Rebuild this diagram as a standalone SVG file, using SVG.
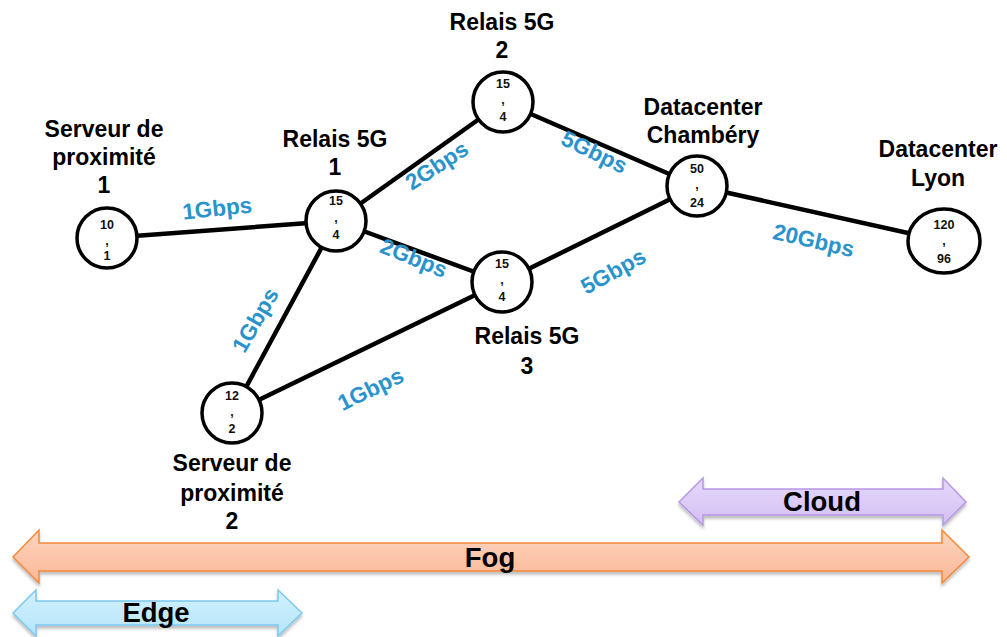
<svg xmlns="http://www.w3.org/2000/svg" width="1007" height="637" viewBox="0 0 1007 637">
<style>
.lbl{font-family:"Liberation Sans",Arial,sans-serif;font-weight:bold;font-size:23px;fill:#000;text-anchor:middle}
.bw{font-family:"Liberation Sans",Arial,sans-serif;font-weight:bold;font-size:22.5px;fill:#2a93cc;text-anchor:middle}
.num{font-family:"Liberation Sans",Arial,sans-serif;font-weight:bold;font-size:12.5px;fill:#111;text-anchor:middle}
.nd{fill:#fff;stroke:#000;stroke-width:3.5}
.ed{stroke:#000;stroke-width:4.5;stroke-linecap:round}
.big{font-family:"Liberation Sans",Arial,sans-serif;font-weight:bold;font-size:27.5px;fill:#000;text-anchor:middle}
</style>
<defs>
<linearGradient id="gCloud" x1="0" y1="0" x2="0" y2="1"><stop offset="0" stop-color="#e6d9fb"/><stop offset="1" stop-color="#d3bff3"/></linearGradient>
<linearGradient id="gFog" x1="0" y1="0" x2="0" y2="1"><stop offset="0" stop-color="#fdd5c0"/><stop offset="1" stop-color="#fbb796"/></linearGradient>
<linearGradient id="gEdge" x1="0" y1="0" x2="0" y2="1"><stop offset="0" stop-color="#d2f1fd"/><stop offset="1" stop-color="#b5e5f9"/></linearGradient>
<filter id="sh" x="-5%" y="-20%" width="110%" height="150%"><feDropShadow dx="0" dy="3" stdDeviation="1.5" flood-color="#000" flood-opacity="0.25"/></filter>
</defs>
<g id="connectors">
<line class="ed" x1="107" y1="238" x2="336" y2="221"/>
<line class="ed" x1="336" y1="221" x2="503" y2="102"/>
<line class="ed" x1="336" y1="221" x2="502" y2="282"/>
<line class="ed" x1="336" y1="221" x2="232" y2="413"/>
<line class="ed" x1="232" y1="413" x2="502" y2="282"/>
<line class="ed" x1="503" y1="102" x2="697" y2="186"/>
<line class="ed" x1="502" y1="282" x2="697" y2="186"/>
<line class="ed" x1="697" y1="186" x2="944" y2="241"/>
<text class="bw" transform="translate(218,216) rotate(-6)">1Gbps</text>
<text class="bw" transform="translate(441,172) rotate(-33)">2Gbps</text>
<text class="bw" transform="translate(411,265) rotate(22)">2Gbps</text>
<text class="bw" transform="translate(262,324) rotate(-60)">1Gbps</text>
<text class="bw" transform="translate(374,396) rotate(-26)">1Gbps</text>
<text class="bw" transform="translate(591,159) rotate(26)">5Gbps</text>
<text class="bw" transform="translate(617,278) rotate(-29)">5Gbps</text>
<text class="bw" transform="translate(812,248) rotate(13)">20Gbps</text>
</g>
<g id="serveur1">
<circle class="nd" cx="107" cy="238" r="30"/>
<text class="num" x="107" y="229">10</text><text class="num" x="107" y="245">,</text><text class="num" x="107" y="260">1</text>
<text class="lbl" x="104" y="137">Serveur de</text><text class="lbl" x="104" y="165">proximité</text><text class="lbl" x="104" y="193">1</text>
</g>
<g id="relais1">
<circle class="nd" cx="336" cy="221" r="30"/>
<text class="num" x="336" y="205">15</text><text class="num" x="336" y="222">,</text><text class="num" x="336" y="239">4</text>
<text class="lbl" x="335" y="147">Relais 5G</text><text class="lbl" x="335" y="175">1</text>
</g>
<g id="relais2">
<circle class="nd" cx="503" cy="102" r="30"/>
<text class="num" x="503" y="88">15</text><text class="num" x="503" y="104">,</text><text class="num" x="503" y="121">4</text>
<text class="lbl" x="502" y="30">Relais 5G</text><text class="lbl" x="502" y="58">2</text>
</g>
<g id="relais3">
<circle class="nd" cx="502" cy="282" r="30"/>
<text class="num" x="502" y="268">15</text><text class="num" x="502" y="284">,</text><text class="num" x="502" y="301">4</text>
<text class="lbl" x="527" y="344">Relais 5G</text><text class="lbl" x="527" y="374">3</text>
</g>
<g id="chambery">
<circle class="nd" cx="697" cy="186" r="30"/>
<text class="num" x="697" y="173">50</text><text class="num" x="697" y="189">,</text><text class="num" x="697" y="207">24</text>
<text class="lbl" x="703" y="115">Datacenter</text><text class="lbl" x="703" y="143">Chambéry</text>
</g>
<g id="lyon">
<ellipse class="nd" cx="944" cy="241" rx="36" ry="32"/>
<text class="num" x="944" y="229">120</text><text class="num" x="944" y="245">,</text><text class="num" x="944" y="263">96</text>
<text class="lbl" x="938" y="157">Datacenter</text><text class="lbl" x="938" y="186">Lyon</text>
</g>
<g id="serveur2">
<circle class="nd" cx="232" cy="413" r="30"/>
<text class="num" x="232" y="400">12</text><text class="num" x="232" y="416">,</text><text class="num" x="232" y="433">2</text>
<text class="lbl" x="232" y="471">Serveur de</text><text class="lbl" x="232" y="501">proximité</text><text class="lbl" x="232" y="529">2</text>
</g>
<g id="cloud">
<path d="M679,502 L703,478 L703,489 L943,489 L943,478 L966,502 L943,525 L943,515 L703,515 L703,525 Z" fill="url(#gCloud)" stroke="#b597e6" stroke-width="1.5" filter="url(#sh)"/>
<text class="big" x="822" y="511">Cloud</text>
</g>
<g id="fog">
<path d="M13,557 L39,530 L39,543 L942,543 L942,530 L969,557 L942,583 L942,571 L39,571 L39,583 Z" fill="url(#gFog)" stroke="#f5883a" stroke-width="1.5" filter="url(#sh)"/>
<text class="big" x="490" y="567">Fog</text>
</g>
<g id="edge">
<path d="M13,613 L36,590 L36,601 L278,601 L278,590 L302,613 L278,636 L278,625 L36,625 L36,636 Z" fill="url(#gEdge)" stroke="#7cc8ef" stroke-width="1.5" filter="url(#sh)"/>
<text class="big" x="156" y="622">Edge</text>
</g>
</svg>
